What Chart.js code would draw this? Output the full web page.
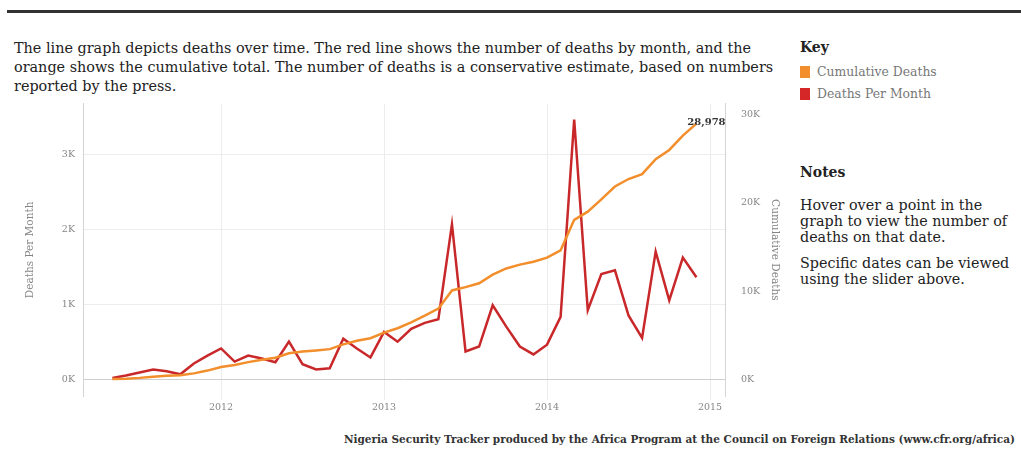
<!DOCTYPE html>
<html>
<head>
<meta charset="utf-8">
<script src="https://cdn.jsdelivr.net/npm/chart.js@4.4.0/dist/chart.umd.min.js"></script>
<style>
  body { margin: 0; background: #fff; font-family: "DejaVu Serif", serif; }
  #page { position: relative; width: 1021px; height: 454px; overflow: hidden; }
  #topRule { position: absolute; left: 7px; top: 10px; width: 1014px; height: 3px; background: #333; }
  #desc { position: absolute; left: 14px; top: 39px; font-size: 14.4px; line-height: 19px; color: #222; white-space: nowrap; }
  #key { position: absolute; left: 800px; top: 39px; }
  #key h3, #notes h3 { margin: 0; font-size: 14px; font-weight: bold; color: #222; }
  .item { font-size: 12.4px; color: #777; height: 22px; line-height: 22px; white-space: nowrap; }
  .sw { display: inline-block; width: 10px; height: 12px; margin-right: 7px; vertical-align: -2px; }
  #notes { position: absolute; left: 800px; top: 164px; color: #222; }
  #notes p { margin: 17px 0 0 0; font-size: 14.3px; line-height: 16px; white-space: nowrap; }
  #notes p + p { margin-top: 10px; }
  #wrap { position: absolute; left: 0; top: 90px; width: 790px; height: 340px; }
  #foot { position: absolute; right: 6px; top: 433px; font-size: 10.5px; font-weight: bold; color: #333; white-space: nowrap; }
</style>
</head>
<body>
<div id="page">
  <div id="topRule"></div>
  <div id="desc">The line graph depicts deaths over time. The red line shows the number of deaths by month, and the<br>orange shows the cumulative total. The number of deaths is a conservative estimate, based on numbers<br>reported by the press.</div>
  <div id="key">
    <h3>Key</h3>
    <div class="item" style="margin-top:6px"><span class="sw" style="background:#f28e2b"></span>Cumulative Deaths</div>
    <div class="item"><span class="sw" style="background:#d62728"></span>Deaths Per Month</div>
  </div>
  <div id="notes">
    <h3>Notes</h3>
    <p>Hover over a point in the<br>graph to view the number of<br>deaths on that date.</p>
    <p>Specific dates can be viewed<br>using the slider above.</p>
  </div>
  <div id="wrap"><canvas id="myChart"></canvas></div>
  <div id="foot">Nigeria Security Tracker produced by the Africa Program at the Council on Foreign Relations (www.cfr.org/africa)</div>
</div>
<script>
// months covered, May 2011 - Dec 2014
const months = [
  '2011-05', '2011-06', '2011-07', '2011-08', '2011-09', '2011-10', '2011-11', '2011-12',
  '2012-01', '2012-02', '2012-03', '2012-04', '2012-05', '2012-06', '2012-07', '2012-08',
  '2012-09', '2012-10', '2012-11', '2012-12', '2013-01', '2013-02', '2013-03', '2013-04',
  '2013-05', '2013-06', '2013-07', '2013-08', '2013-09', '2013-10', '2013-11', '2013-12',
  '2014-01', '2014-02', '2014-03', '2014-04', '2014-05', '2014-06', '2014-07', '2014-08',
  '2014-09', '2014-10', '2014-11', '2014-12'
];
const deathsPerMonth = [
  15, 50, 90, 130, 105, 65, 210, 315, 410, 235, 315, 275, 225, 500, 200, 130,
  145, 540, 410, 290, 630, 500, 670, 750, 800, 2065, 370, 435, 985, 700, 435, 330,
  460, 830, 3460, 920, 1400, 1450, 850, 550, 1700, 1050, 1620, 1358
];
const cumulativeDeaths = [
  15, 65, 155, 285, 390, 455, 665, 980, 1390, 1625, 1940, 2215, 2440, 2940, 3140, 3270,
  3415, 3955, 4365, 4655, 5285, 5785, 6455, 7205, 8005, 10070, 10440, 10875, 11860, 12560, 12995, 13325,
  13785, 14615, 18075, 19000, 20400, 21850, 22700, 23250, 24950, 26000, 27620, 28978
];
const yearTicks = ['2012', '2013', '2014', '2015'];
const leftTicks = [0, 1000, 2000, 3000];
const rightTicks = [0, 10000, 20000, 30000];

// 'YYYY-MM' -> decimal year
function toYear(m) {
    const parts = m.split('-');
    return Number(parts[0]) + (Number(parts[1]) - 1) / 12;
}

const tickFont = { family: 'DejaVu Serif', size: 9.5 };
const grey = '#858585';

// label on the last cumulative point
const endLabel = {
    id: 'endLabel',
    afterDatasetsDraw(chart) {
        const meta = chart.getDatasetMeta(0);
        const pt = meta.data[meta.data.length - 1];
        const v = cumulativeDeaths[cumulativeDeaths.length - 1];
        const ctx = chart.ctx;
        ctx.save();
        ctx.font = 'bold 10px "DejaVu Serif"';
        ctx.fillStyle = '#333';
        ctx.textAlign = 'center';
        ctx.fillText(v.toLocaleString('en-US'), pt.x + 10, pt.y + 1);
        ctx.restore();
    }
};

const ctx = document.getElementById('myChart');
new Chart(ctx.getContext('2d'), {
    type: 'line',
    data: {
        datasets: [{
            label: 'Cumulative Deaths',
            data: months.map((m, i) => ({ x: toYear(m), y: cumulativeDeaths[i] })),
            yAxisID: 'y2',
            borderColor: '#f28e2b',
            borderWidth: 2.5,
            pointRadius: 0,
            fill: false
        }, {
            label: 'Deaths Per Month',
            data: months.map((m, i) => ({ x: toYear(m), y: deathsPerMonth[i] })),
            yAxisID: 'y',
            borderColor: '#c9282a',
            borderWidth: 2.5,
            pointRadius: 0,
            fill: false
        }]
    },
    options: {
        responsive: true,
        maintainAspectRatio: false,
        animation: false,
        layout: { padding: { left: 24, right: 9, top: 10, bottom: 0 } },
        plugins: { legend: { display: false }, tooltip: { enabled: false } },
        scales: {
            x: {
                type: 'linear',
                min: 2011.153,
                max: 2015.092,
                afterBuildTicks: (s) => { s.ticks = yearTicks.map(t => ({ value: Number(t) })); },
                afterFit: (s) => { s.height = 34; },
                ticks: { callback: (v) => String(v), color: grey, font: tickFont, padding: 2, maxRotation: 0 },
                grid: { color: '#ececec', tickLength: 4 },
                border: { display: false }
            },
            y: {
                position: 'left',
                min: -224,
                max: 3671,
                afterBuildTicks: (s) => { s.ticks = leftTicks.map(v => ({ value: v })); },
                afterFit: (s) => { s.width = 59; },
                ticks: { callback: (v) => (v / 1000) + 'K', color: grey, font: tickFont, padding: 8 },
                grid: { color: (c) => c.tick && c.tick.value === 0 ? '#cfcfcf' : '#ededed', drawTicks: false },
                border: { display: true, color: '#d4d4d4' },
                title: { display: true, text: 'Deaths Per Month', color: grey, font: { family: 'DejaVu Serif', size: 10.5 }, padding: 0 }
            },
            y2: {
                position: 'right',
                min: -1900,
                max: 31240,
                afterBuildTicks: (s) => { s.ticks = rightTicks.map(v => ({ value: v })); },
                afterFit: (s) => { s.width = 56; },
                ticks: { callback: (v) => (v / 1000) + 'K', color: grey, font: tickFont, padding: 8 },
                grid: { display: false },
                border: { display: true, color: '#d4d4d4' },
                title: { display: true, text: 'Cumulative Deaths', color: grey, font: { family: 'DejaVu Serif', size: 10.5 }, padding: 0 }
            }
        }
    },
    plugins: [endLabel]
});
</script>
</body>
</html>
